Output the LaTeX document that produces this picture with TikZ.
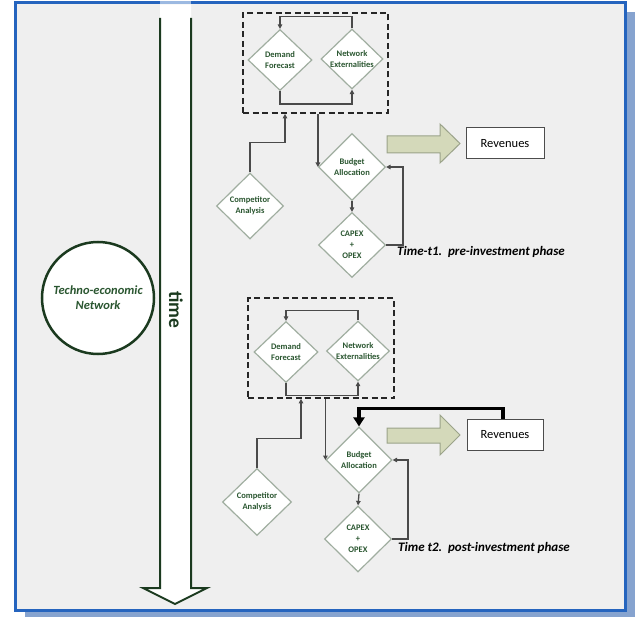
\documentclass[tikz,border=0pt]{standalone}
\usepackage{fontspec}
\setmainfont{Carlito}
\usetikzlibrary{shapes.geometric,arrows.meta,calc}

\definecolor{bg}{HTML}{EFEFEF}
\definecolor{frameblue}{HTML}{2564BE}
\definecolor{shadowblue}{HTML}{86A3CF}
\definecolor{timegreen}{HTML}{1B3A1F}
\definecolor{textgreen}{HTML}{2A5630}
\definecolor{dmdline}{HTML}{A0AEA0}
\definecolor{connline}{HTML}{4A4A4A}
\definecolor{olivefill}{HTML}{D4D9BA}
\definecolor{olivedraw}{HTML}{9BA38A}

\begin{document}
\begin{tikzpicture}[x=1pt,y=-1pt,
  dmd/.style={diamond, draw=dmdline, fill=white, line width=1.2pt, inner sep=0pt},
  dtext/.style={align=center, text=textgreen, inner sep=0pt,
    font=\bfseries\fontsize{8.5}{10.8}\selectfont},
  groupbox/.style={draw=black!85, dashed, dash pattern=on 6pt off 3.5pt, line width=1.7pt, inner sep=0pt},
  conn/.style={draw=connline, line width=1.3pt, -{Triangle[length=4.5pt,width=4.5pt]}},
  revbox/.style={draw=black!70, fill=white, line width=1pt, inner sep=0pt,
    font=\fontsize{12.5}{14}\selectfont},
  bigarrow/.style={fill=olivefill, draw=olivedraw, line width=1pt, line join=miter},
  feedback/.style={draw=black, line width=3.5pt, -{Triangle[length=9pt,width=11pt]}},
  phase/.style={anchor=west, inner sep=0pt, font=\bfseries\itshape\fontsize{13}{15}\selectfont}
]
\useasboundingbox (0,0) rectangle (641,618);

% frame with drop shadow
\fill[shadowblue] (25,12) rectangle (635,617);
\draw[frameblue, line width=3pt, fill=bg] (15,3) rectangle (625,610);

% time axis
\fill[white] (160,4.5) -- (160,588) -- (143,588) -- (175,604) -- (207,588) -- (191,588) -- (191,4.5) -- cycle;
\fill[white, opacity=.55] (160,1.5) rectangle (191,4.5);
\draw[timegreen, line width=2pt, line join=miter]
  (160,18) -- (160,588) -- (143,588) -- (175,604) -- (207,588) -- (191,588) -- (191,18);
\node[rotate=-90, text=timegreen, inner sep=0pt, font=\bfseries\fontsize{19.5}{22}\selectfont] (timelbl) at (176,310) {time};

% network circle
\node[circle, draw=timegreen, line width=2.5pt, fill=white, minimum size=112pt, inner sep=0pt,
  align=center, text=textgreen, font=\bfseries\itshape\fontsize{12.5}{15}\selectfont] (ten) at (98,298)
  {Techno-economic\\Network};

% ---------- t1: pre-investment ----------
\node[groupbox, minimum width=145pt, minimum height=100pt] (box1) at (315.5,63) {};
\node[dmd, minimum width=64pt, minimum height=61pt, label={[dtext]center:Demand\\Forecast}] (df1) at (280,60) {};
\node[dmd, minimum width=62pt, minimum height=60pt, label={[dtext]center:Network\\Externalities}] (ne1) at (352,59) {};
\node[dmd, minimum width=67pt, minimum height=67pt, label={[dtext]center:Budget\\Allocation}] (ba1) at (352,167) {};
\node[dmd, minimum width=67pt, minimum height=65pt, label={[dtext]center:CAPEX\\+\\OPEX}] (cx1) at (352,245) {};
\node[dmd, minimum width=67pt, minimum height=66pt, label={[dtext]center:Competitor\\Analysis}] (ca1) at (250,206) {};
\node[revbox, minimum width=78pt, minimum height=31pt] (rev1) at (505,143.5) {Revenues};

\draw[conn] (ne1.north) -- ++(0,-12) -| (df1.north);
\draw[conn] (df1.south) -- ++(0,13) -| (ne1.south);
\draw[conn] (ca1.north) -- ++(0,-30) -| ([xshift=-30.5pt]box1.south);
\draw[conn] (box1.south -| ba1.west) -- (ba1.west);
\draw[conn] (ba1.south) -- (cx1.north);
\draw[conn] (cx1.east) -- ++(17,0) |- (ba1.east);

\filldraw[bigarrow] (387,136) -- (440,136) -- (440,124) -- (460,143.5) -- (440,163) -- (440,153) -- (387,153) -- cycle;
\node[phase] (ph1) at (397,252) {Time-t1.\ \ pre-investment phase};

% ---------- t2: post-investment ----------
\node[groupbox, minimum width=146pt, minimum height=100pt] (box2) at (321,348) {};
\node[dmd, minimum width=64pt, minimum height=61pt, label={[dtext]center:Demand\\Forecast}] (df2) at (286,352) {};
\node[dmd, minimum width=63pt, minimum height=60pt, label={[dtext]center:Network\\Externalities}] (ne2) at (358,351) {};
\node[dmd, minimum width=66pt, minimum height=66pt, label={[dtext]center:Budget\\Allocation}] (ba2) at (359,460) {};
\node[dmd, minimum width=67pt, minimum height=66pt, label={[dtext]center:CAPEX\\+\\OPEX}] (cx2) at (358,539) {};
\node[dmd, minimum width=69pt, minimum height=67pt, label={[dtext]center:Competitor\\Analysis}] (ca2) at (257,502) {};
\node[revbox, minimum width=76pt, minimum height=31pt] (rev2) at (505,434.5) {Revenues};

\draw[conn] (ne2.north) -- ++(0,-10) -| (df2.north);
\draw[conn] (df2.south) -- ++(0,12.5) -| (ne2.south);
\draw[conn] (ca2.north) -- ++(0,-29.5) -| ([xshift=-20pt]box2.south);
\draw[conn] (box2.south -| ba2.west) -- (ba2.west);
\draw[conn] (ba2.south) -- (cx2.north);
\draw[conn] (cx2.east) -- ++(16,0) |- (ba2.east);
\draw[feedback] ([xshift=-2pt]rev2.north) -- ++(0,-10) -| (ba2.north);

\filldraw[bigarrow] (387,428) -- (440,428) -- (440,415) -- (460,435) -- (440,455) -- (440,443) -- (387,443) -- cycle;
\node[phase] (ph2) at (398,548) {Time t2.\ \ post-investment phase};
\end{tikzpicture}
\end{document}
